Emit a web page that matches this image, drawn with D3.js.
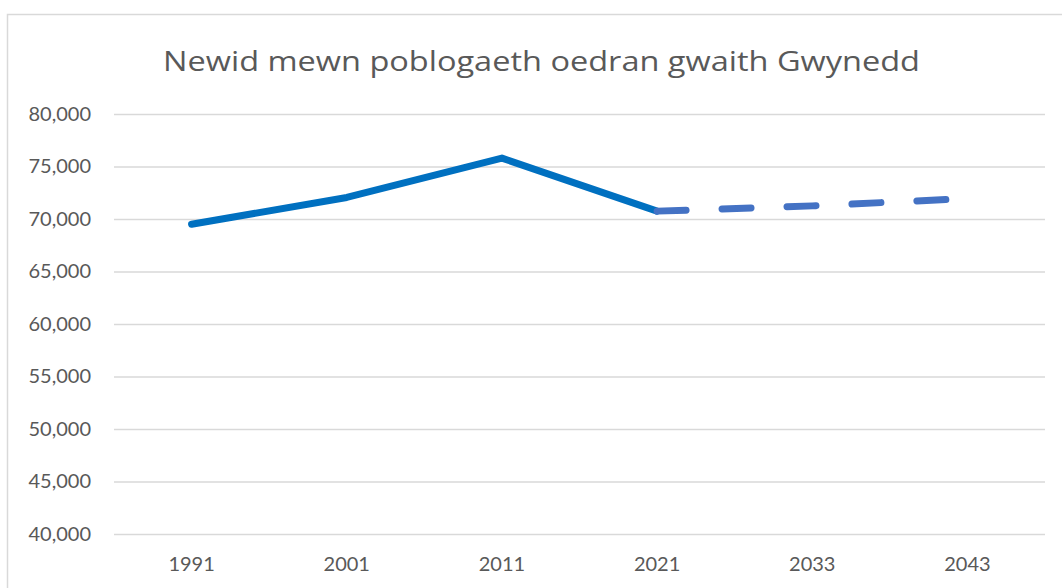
<!DOCTYPE html>
<html><head><meta charset="utf-8">
<script src="https://cdn.jsdelivr.net/npm/d3@7"></script>
<style>body{margin:0;background:#fff;} text{font-family:Lato,"Open Sans",sans-serif;}</style>
</head><body><svg id="c" width="1062" height="588"></svg>
<script>
const title = "Newid mewn poblogaeth oedran gwaith Gwynedd";
const categories = ["1991","2001","2011","2021","2033","2043"];
const actual = [69500, 72050, 75800, 70750, null, null];
const projected = [null, null, null, 70750, 71250, 71950];
const yTicks = [40000,45000,50000,55000,60000,65000,70000,75000,80000];

(function(){
const svg = d3.select("#c");
svg.append("rect").attr("x",7.5).attr("y",14.5).attr("width",1070).attr("height",600)
  .attr("fill","#fff").attr("stroke","#d9d9d9").attr("stroke-width",1.5);

const pl=114, pr=1045, pt=114, pb=534;
const x = d3.scaleBand().domain(categories).range([pl,pr]);
const y = d3.scaleLinear().domain([40000,80000]).range([pb,pt]);

svg.append("text").attr("x",163).attr("y",71).attr("text-anchor","start")
  .attr("font-size",28).attr("fill","#595959").style("font-family","'Open Sans'")
  .attr("textLength",757).attr("lengthAdjust","spacingAndGlyphs").text(title);

const yAxis = svg.append("g").attr("transform",`translate(${pl},0)`)
  .call(d3.axisLeft(y).tickValues(yTicks).tickSize(-(pr-pl)).tickFormat(d3.format(",")).tickPadding(23));
yAxis.select(".domain").remove();
yAxis.selectAll("line").attr("stroke","#d9d9d9").attr("stroke-width",1.5);
yAxis.selectAll("text").attr("font-size",20).attr("fill","#595959").attr("font-family","Lato");

const xAxis = svg.append("g").attr("transform",`translate(0,${pb})`)
  .call(d3.axisBottom(x).tickSize(0).tickPadding(23));
xAxis.select(".domain").remove();
xAxis.selectAll("text").attr("font-size",20).attr("fill","#595959").attr("font-family","Lato");

const line = d3.line().defined(d=>d!=null).x((d,i)=>x(categories[i])+x.bandwidth()/2).y(d=>y(d));
svg.append("path").datum(actual).attr("d",line).attr("fill","none")
  .attr("stroke","#0070C0").attr("stroke-width",7).attr("stroke-linejoin","round").attr("stroke-linecap","round");
svg.append("path").datum(projected).attr("d",line).attr("fill","none")
  .attr("stroke","#4472C4").attr("stroke-width",7).attr("stroke-linecap","round")
  .attr("stroke-dasharray","29,36");
})();
</script></body></html>
